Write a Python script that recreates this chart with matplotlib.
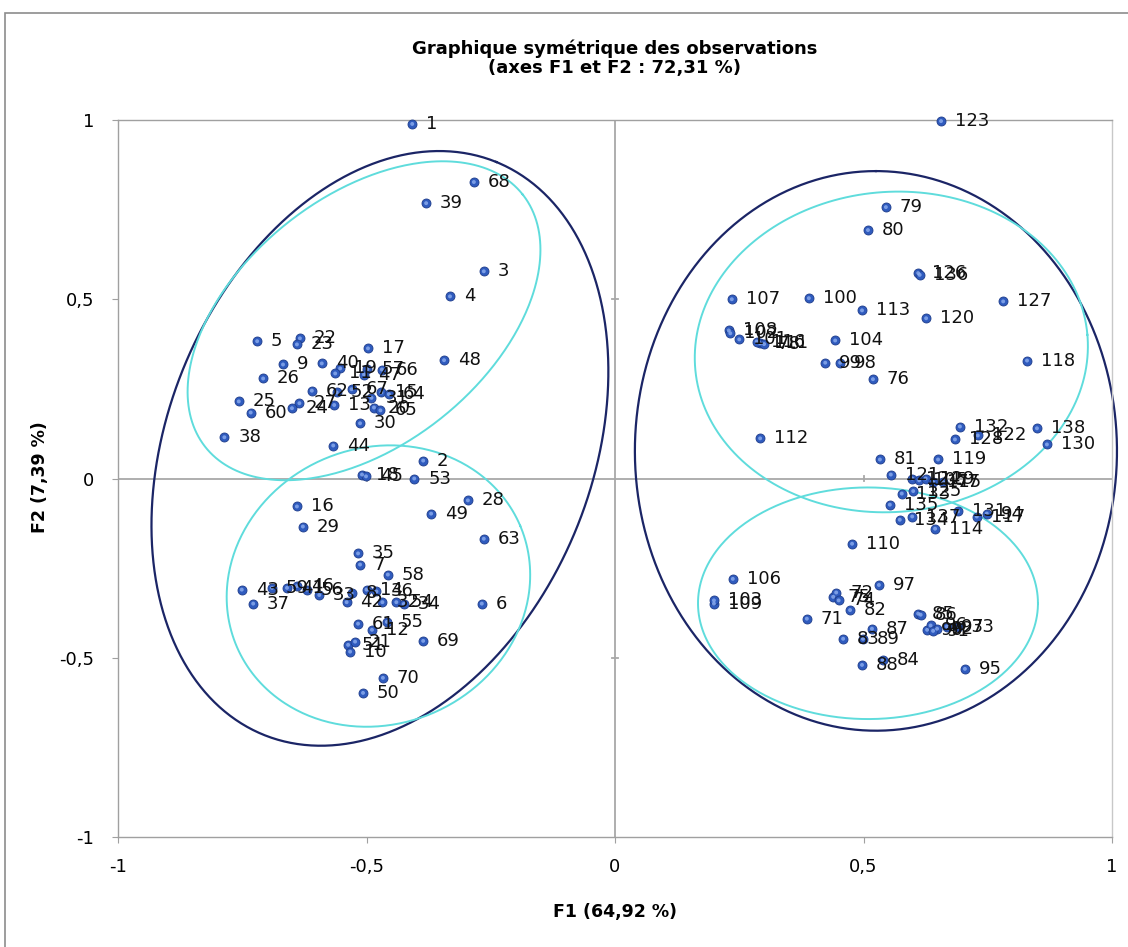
import numpy as np
import matplotlib
matplotlib.use("Agg")
import matplotlib.pyplot as plt
from matplotlib.patches import Rectangle

plt.rcParams["font.family"] = ["DejaVu Sans"]

# Observations of the first group (negative F1)
left_ids = [1, 68, 39, 3, 4, 48, 5, 22, 23, 17, 9, 40, 19, 11, 57, 66, 47, 26,
            62, 67, 52, 15, 64, 31, 25, 60, 27, 24, 13, 20, 65, 30, 38, 44,
            2, 18, 45, 53, 28, 16, 49, 29, 63, 35, 7, 58, 43, 37, 59, 41, 46,
            56, 33, 42, 8, 14, 36, 32, 54, 34, 61, 12, 55, 51, 21, 10, 69, 70,
            50, 6]
left_f1 = [-0.408, -0.284, -0.380, -0.264, -0.332, -0.344, -0.720, -0.634, -0.640,
           -0.497, -0.668, -0.590, -0.553, -0.563, -0.498, -0.469, -0.505, -0.708,
           -0.610, -0.530, -0.560, -0.470, -0.455, -0.490, -0.757, -0.733, -0.635,
           -0.650, -0.565, -0.485, -0.472, -0.513, -0.786, -0.567,
           -0.386, -0.509, -0.501, -0.404, -0.296, -0.640, -0.370, -0.628, -0.264,
           -0.517, -0.513, -0.457, -0.751, -0.728, -0.690, -0.660, -0.640, -0.620,
           -0.595, -0.540, -0.530, -0.500, -0.480, -0.468, -0.440, -0.425, -0.517,
           -0.489, -0.459, -0.537, -0.523, -0.533, -0.386, -0.467, -0.507, -0.268]
left_f2 = [0.989, 0.827, 0.768, 0.578, 0.508, 0.330, 0.383, 0.391, 0.374,
           0.363, 0.318, 0.321, 0.307, 0.293, 0.305, 0.304, 0.290, 0.279,
           0.245, 0.249, 0.240, 0.240, 0.235, 0.225, 0.215, 0.184, 0.210,
           0.196, 0.205, 0.198, 0.190, 0.154, 0.115, 0.092,
           0.050, 0.011, 0.006, 0.000, -0.061, -0.078, -0.098, -0.134, -0.168,
           -0.209, -0.240, -0.268, -0.310, -0.349, -0.305, -0.305, -0.300, -0.310,
           -0.325, -0.345, -0.320, -0.310, -0.315, -0.345, -0.345, -0.350, -0.405,
           -0.422, -0.400, -0.464, -0.455, -0.483, -0.453, -0.556, -0.598, -0.349]

# Observations of the second group (positive F1)
right_ids = [123, 79, 80, 126, 136, 127, 107, 100, 113, 120, 108, 102, 101, 111,
             116, 78, 104, 99, 98, 76, 118, 112, 132, 128, 122, 138, 130, 81, 119,
             121, 124, 105, 129, 115, 77, 133, 125, 135, 134, 137, 114, 131, 117,
             94, 110, 106, 109, 103, 97, 75, 72, 74, 82, 71, 85, 86, 87, 90, 96,
             92, 93, 73, 91, 83, 89, 88, 84, 95]
right_f1 = [0.656, 0.545, 0.509, 0.610, 0.613, 0.781, 0.235, 0.390, 0.497, 0.626,
            0.229, 0.232, 0.250, 0.292, 0.285, 0.300, 0.443, 0.423, 0.453, 0.519,
            0.829, 0.292, 0.694, 0.684, 0.730, 0.849, 0.869, 0.533, 0.650,
            0.555, 0.598, 0.612, 0.625, 0.640, 0.660, 0.577, 0.600, 0.553, 0.573,
            0.598, 0.644, 0.690, 0.728, 0.748, 0.477, 0.237, 0.199, 0.199, 0.531,
            0.439, 0.445, 0.450, 0.473, 0.386, 0.610, 0.615, 0.517, 0.628, 0.635,
            0.648, 0.668, 0.690, 0.640, 0.459, 0.499, 0.497, 0.539, 0.704]
right_f2 = [0.997, 0.757, 0.693, 0.573, 0.568, 0.494, 0.500, 0.503, 0.469, 0.447,
            0.413, 0.405, 0.388, 0.377, 0.382, 0.375, 0.385, 0.323, 0.323, 0.277,
            0.329, 0.112, 0.145, 0.109, 0.120, 0.140, 0.095, 0.053, 0.053,
            0.011, 0.000, -0.005, 0.000, -0.010, -0.010, -0.042, -0.035, -0.073,
            -0.115, -0.106, -0.140, -0.092, -0.106, -0.098, -0.182, -0.280, -0.349,
            -0.340, -0.297, -0.330, -0.318, -0.340, -0.367, -0.391, -0.377, -0.380,
            -0.419, -0.422, -0.410, -0.419, -0.413, -0.415, -0.425, -0.447, -0.447,
            -0.520, -0.506, -0.531]

x_ticks = [-1, -0.5, 0, 0.5, 1]
x_tick_labels = ["-1", "-0,5", "0", "0,5", "1"]
y_ticks = [-1, -0.5, 0, 0.5, 1]
y_tick_labels = ["-1", "-0,5", "0", "0,5", "1"]

W, H = 1128, 947
fig = plt.figure(figsize=(W / 100, H / 100), dpi=100)
fig.patch.set_facecolor("white")

# chart frame
fig.patches.append(Rectangle((5 / W, -0.05), 1.2, 1 - 13 / H + 0.05,
                             transform=fig.transFigure, fill=False,
                             edgecolor="#8C8C8C", linewidth=1.2))

ax_l, ax_r, ax_t, ax_b = 118, 1112, 120, 837
ax = fig.add_axes([ax_l / W, 1 - ax_b / H, (ax_r - ax_l) / W, (ax_b - ax_t) / H])
ax.set_xlim(-1, 1)
ax.set_ylim(-1, 1)

for side in ["left", "bottom", "top", "right"]:
    ax.spines[side].set_color("#A0A0A0")
    ax.spines[side].set_linewidth(1.0)
ax.spines["right"].set_color("#C8C8C8")

ax.set_xticks(x_ticks)
ax.set_xticklabels(x_tick_labels)
ax.set_yticks(y_ticks)
ax.set_yticklabels(y_tick_labels)
ax.tick_params(axis="both", length=4, color="#A0A0A0", labelsize=13, labelcolor="black")
ax.tick_params(axis="x", pad=11)
ax.tick_params(axis="y", pad=13)

# axes through the origin, with small cross ticks
ax.axhline(0, color="#A8A8A8", linewidth=1.3, zorder=1)
ax.axvline(0, color="#A8A8A8", linewidth=1.3, zorder=1)
for t in [-0.5, 0.5]:
    ax.plot([-0.006, 0.006], [t, t], color="#A8A8A8", linewidth=1.3, zorder=1)
    ax.plot([t, t], [-0.008, 0.008], color="#A8A8A8", linewidth=1.3, zorder=1)

# isotropic ellipses (x-units), converted to the axes' y scale
k = ((ax_r - ax_l) / 2.0) / ((ax_b - ax_t) / 2.0)


def ring(cx, cy, a, b, ang):
    t = np.linspace(0, 2 * np.pi, 400)
    th = np.deg2rad(ang)
    u, v = a * np.cos(t), b * np.sin(t)
    xs = u * np.cos(th) - v * np.sin(th)
    ys = (u * np.sin(th) + v * np.cos(th)) * k
    return cx + xs, cy + ys


navy = "#1B2566"
cyan = "#5FDCDC"
for (cx, cy, a, b, ang, col, lw) in [
        (-0.473, 0.084, 0.622, 0.427, 67.9, navy, 1.6),
        (-0.505, 0.440, 0.408, 0.250, 38.6, cyan, 1.4),
        (-0.476, -0.300, 0.310, 0.278, 23.0, cyan, 1.4),
        (0.525, 0.077, 0.563, 0.485, 90.0, navy, 1.6),
        (0.556, 0.353, 0.396, 0.322, 5.0, cyan, 1.4),
        (0.509, -0.348, 0.342, 0.233, 0.0, cyan, 1.4)]:
    ex, ey = ring(cx, cy, a, b, ang)
    ax.plot(ex, ey, color=col, linewidth=lw, zorder=2, clip_on=False)

ids = left_ids + right_ids
f1 = np.array(left_f1 + right_f1)
f2 = np.array(left_f2 + right_f2)

ax.scatter(f1, f2, s=42, color="#2F5BBE", edgecolors="#1E3C8A", linewidths=0.6,
           zorder=3, clip_on=False)
ax.scatter(f1, f2, s=8, color="#8EAEF0", edgecolors="none", zorder=4, clip_on=False,
           alpha=0.8)

for i, x, y in zip(ids, f1, f2):
    ax.annotate(str(i), (x, y), xytext=(10, 0), textcoords="offset points",
                va="center", ha="left", fontsize=13, color="#111111", zorder=5,
                annotation_clip=False)

fig.text(615 / W, 1 - 58 / H,
         "Graphique symétrique des observations\n(axes F1 et F2 : 72,31 %)",
         ha="center", va="center", fontsize=13, fontweight="bold",
         linespacing=1.05)
fig.text(615 / W, 1 - 912 / H, "F1 (64,92 %)", ha="center", va="center",
         fontsize=12.5, fontweight="bold")
fig.text(40 / W, 1 - 477 / H, "F2 (7,39 %)", ha="center", va="center",
         fontsize=12.5, fontweight="bold", rotation=90)

fig.savefig("out.png", dpi=100)
